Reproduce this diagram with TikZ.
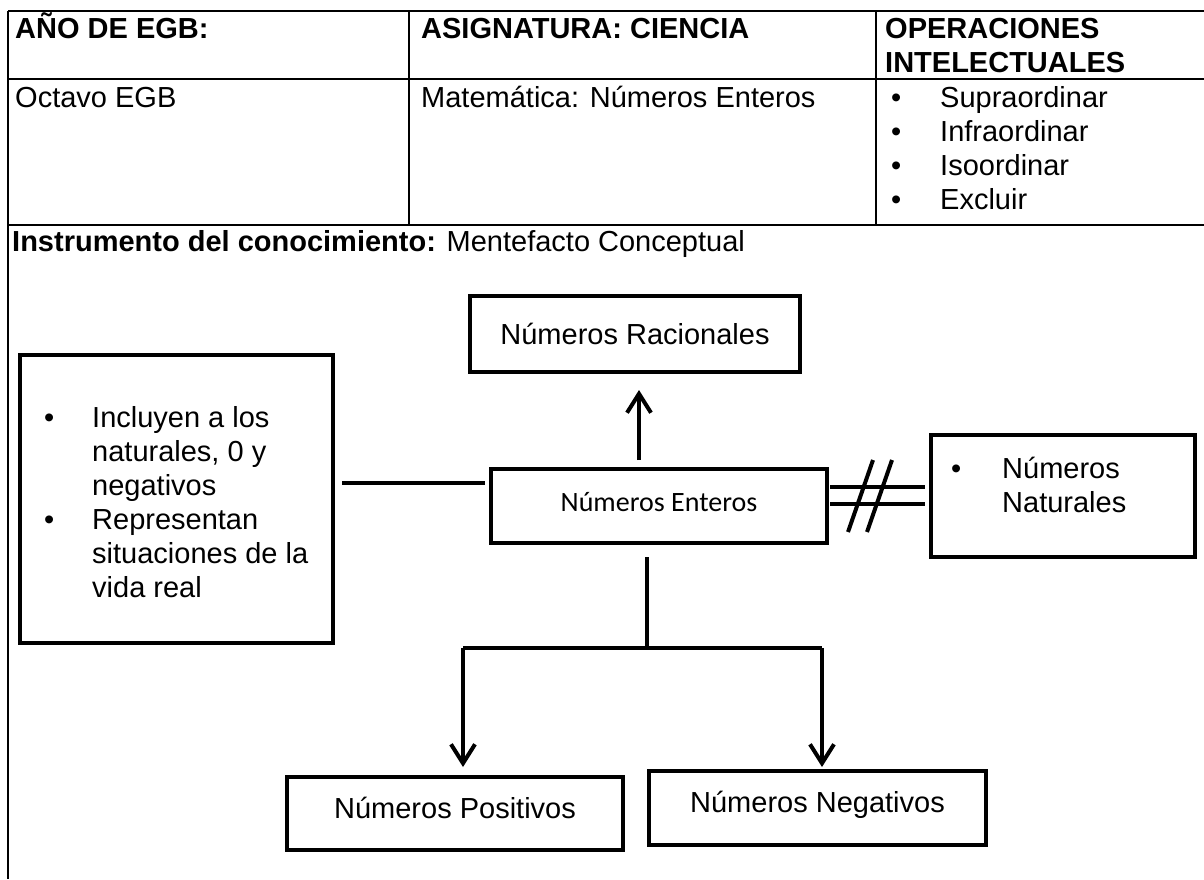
\documentclass[tikz,border=0pt]{standalone}
\usepackage{fontspec}
\setmainfont{Liberation Sans}
\newfontfamily\calibrifont{Carlito}
\usetikzlibrary{arrows.meta}

\begin{document}
\begin{tikzpicture}[x=1pt,y=-1pt,
  tabline/.style={line width=2.4pt},
  tabtext/.style={anchor=base west,inner sep=0pt,font=\fontsize{29}{34}\selectfont},
  boxtext/.style={anchor=base west,inner sep=0pt,font=\fontsize{29}{34}\selectfont},
  boxlabel/.style={anchor=base,inner sep=0pt,font=\fontsize{29}{34}\selectfont},
  conbox/.style={draw,line width=4.5pt,inner sep=0pt},
  link/.style={line width=4pt},
  arrowlink/.style={link,-{Straight Barb[length=19pt,width=24pt]}}]

  \useasboundingbox (0,0) rectangle (1204,879);

  % Table frame
  \draw[tabline] (8,11) -- (1204,11);
  \draw[tabline] (8,79) -- (1204,79);
  \draw[tabline] (8,225) -- (1204,225);
  \draw[tabline] (8,11) -- (8,879);
  \foreach \col in {409,876} {
    \draw[tabline] (\col,11) -- (\col,225);
  }

  % Header row
  \node[tabtext] (hanio) at (15,38) {\bfseries AÑO DE EGB:};
  \node[tabtext] (hasig) at (421,38) {\bfseries ASIGNATURA: CIENCIA};
  \node[tabtext] (hoper) at (885,38) {\bfseries OPERACIONES};
  \node[tabtext] (hintel) at (885,72) {\bfseries INTELECTUALES};

  % Second row
  \node[tabtext] (octavo) at (15,107) {Octavo EGB};
  \node[tabtext] (materia) at (421,107) {Matemática: Números Enteros};
  \foreach \op [count=\i] in {Supraordinar,Infraordinar,Isoordinar,Excluir} {
    \node[tabtext] (bul\i) at (891,73+34*\i) {\textbullet};
    \node[tabtext] (op\i) at (940,73+34*\i) {\op};
  }

  % Instrument line
  \node[tabtext] (instr) at (12,251) {\bfseries Instrumento del conocimiento:\mdseries{} Mentefacto Conceptual};

  % Concept boxes
  \node[conbox,minimum width=330pt,minimum height=76pt] (racionales) at (635,334) {};
  \node[boxlabel] (racionaleslbl) at (635,344) {Números Racionales};

  \node[conbox,minimum width=336pt,minimum height=74pt] (enteros) at (659,506) {};
  \node[inner sep=0pt,font=\calibrifont\fontsize{28}{34}\selectfont] (enteroslbl) at (659,502) {Números Enteros};

  \node[conbox,minimum width=313pt,minimum height=288pt] (rasgos) at (176.5,499) {};
  \foreach \txt [count=\i] in {Incluyen a los,{naturales, 0 y},negativos,Representan,situaciones de la,vida real} {
    \node[boxtext] (ras\i) at (92,393+34*\i) {\txt};
  }
  \node[boxtext] at (44,427) {\textbullet};
  \node[boxtext] at (44,529) {\textbullet};

  \node[conbox,minimum width=264pt,minimum height=122pt] (naturales) at (1063,496) {};
  \node[boxtext] at (951,478) {\textbullet};
  \node[boxtext] at (1002,478) {Números};
  \node[boxtext] at (1002,512) {Naturales};

  \node[conbox,minimum width=336pt,minimum height=73pt] (positivos) at (455,813.5) {};
  \node[boxlabel] (positivoslbl) at (455,818) {Números Positivos};

  \node[conbox,minimum width=337pt,minimum height=74pt] (negativos) at (817.5,808) {};
  \node[boxlabel] (negativoslbl) at (817.5,812) {Números Negativos};

  % Connectors
  \coordinate (upfoot) at (639,460);
  \coordinate (uptip) at (639,390);
  \draw[arrowlink] (upfoot) -- (uptip);

  \coordinate (leftend) at (342,483);
  \coordinate (rightend) at (485,483);
  \draw[link] (leftend) -- (rightend);

  % Exclusion mark
  \draw[link] (830,487) -- (925,487);
  \draw[link] (830,504) -- (925,504);
  \draw[link] (848,532) -- (873,460);
  \draw[link] (867,532) -- (892,460);

  % Branch to the subclasses
  \coordinate (stemtop) at (647,557);
  \coordinate (split) at (647,650);
  \coordinate (branchl) at (463,648);
  \coordinate (branchr) at (822,648);
  \draw[link] (stemtop) -- (split);
  \draw[link] (branchl) -- (branchr);
  \draw[arrowlink] (branchl) -- (463,767);
  \draw[arrowlink] (branchr) -- (822,767);
\end{tikzpicture}
\end{document}
